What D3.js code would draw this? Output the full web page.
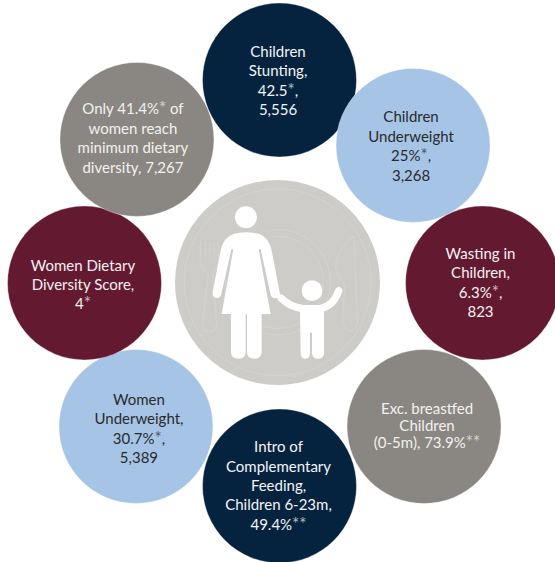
<!DOCTYPE html>
<html>
<head>
<meta charset="utf-8">
<script src="https://cdn.jsdelivr.net/npm/d3@7"></script>
<style>
  html, body { margin: 0; padding: 0; background: #fff; overflow: hidden; }
  text { font-family: Lato, "Noto Sans", sans-serif; font-size: 15px; text-anchor: middle; }
</style>
</head>
<body>
<div id="chart"></div>
<script>
// Clockwise from the top
var labels = [
  ["Children", "Stunting,", "42.5*,", "5,556"],
  ["Children", "Underweight", "25%*,", "3,268"],
  ["Wasting in", "Children,", "6.3%*,", "823"],
  ["Exc. breastfed", "Children", "(0-5m), 73.9%**"],
  ["Intro of", "Complementary", "Feeding,", "Children 6-23m,", "49.4%**"],
  ["Women", "Underweight,", "30.7%*,", "5,389"],
  ["Women Dietary", "Diversity Score,", "4*"],
  ["Only 41.4%* of", "women reach", "minimum dietary", "diversity, 7,267"]
];
var kinds = ["navy", "blue", "maroon", "grey", "navy", "blue", "maroon", "grey"];

var width = 555, height = 562;
var cx = 279.5, cy = 283, ringRadius = 203, bubbleRadius = 77;

// the ring in the picture is not quite regular
var nudgeX = [0, -10, 0, 1, 0, 0, 8, 1];
var nudgeY = [0, 6, 0, 0, 0, 0, 0, 0];
// text placement inside each bubble
var textX = [-1.5, -2, -2, 3, -1, 3, -1.5, -4];
var textY = [6, 6, 5, 4.6, 5, 7.5, 7, 4];
var lineGap = [19.4, 19.4, 19.4, 17.2, 19.4, 19.6, 19.2, 19.4];

var fill = d3.scaleOrdinal()
  .domain(["navy", "blue", "maroon", "grey"])
  .range(["#05233f", "#a6c5e6", "#631a31", "#8a8782"]);
var ink = d3.scaleOrdinal()
  .domain(["navy", "blue", "maroon", "grey"])
  .range(["#f4f5f6", "#2a2a2c", "#f6f1f2", "#f2f1ef"]);
var angle = d3.scaleLinear().domain([0, labels.length]).range([0, 2 * Math.PI]);

var svg = d3.select("#chart").append("svg")
  .attr("width", width)
  .attr("height", height)
  .style("display", "block");

// Centre plate
svg.append("circle")
  .attr("cx", 277.5).attr("cy", 282.5).attr("r", 102.5)
  .attr("fill", "#cdccc8");

// everything below is in 3x coordinates, easier to trace
var icon = svg.append("g").attr("transform", "translate(170,160) scale(0.3333)");

var plate = icon.append("g")
  .attr("fill", "none")
  .attr("stroke", "#dddcd9")
  .attr("stroke-width", 1.6)
  .attr("stroke-dasharray", "14 2");
plate.append("circle").attr("cx", 323).attr("cy", 367).attr("r", 280);
plate.append("circle").attr("cx", 323).attr("cy", 367).attr("r", 158);
plate.append("circle").attr("cx", 323).attr("cy", 367).attr("r", 138);
// fork
plate.append("path").attr("d", "M92 245 L90 295 Q92 325 115 340 L98 490 Q100 515 118 515 Q138 515 140 490 L128 340 Q146 320 146 295 L144 245");
plate.append("path").attr("d", "M106 245 L106 285 M119 245 L119 285 M132 245 L132 285");
// knife
plate.append("path").attr("d", "M552 228 Q500 270 496 320 Q500 350 525 370 L518 480 Q522 512 540 512 Q562 512 562 480 L552 228");

var person = icon.append("g").attr("fill", "#fff");
// mother
person.append("circle").attr("cx", 228).attr("cy", 172).attr("r", 33);
person.append("path").attr("d",
  "M190 222 Q228 212 268 222 Q296 232 305 272 L330 402 Q330 414 316 415 Q306 415 302 404 " +
  "L272 268 L266 268 L302 462 L155 462 L190 268 L184 268 L154 402 Q150 415 140 414 Q126 412 128 396 " +
  "L152 272 Q160 232 190 222 Z");
person.append("path").attr("d", "M183 462 H227 V575 Q227 596 205 596 Q183 596 183 575 Z");
person.append("path").attr("d", "M231 462 H275 V575 Q275 596 253 596 Q231 596 231 575 Z");
// child
person.append("circle").attr("cx", 426).attr("cy", 392).attr("r", 31);
person.append("path").attr("d",
  "M390 452 H462 V578 Q462 596 444 596 Q426 596 426 578 V518 H420 V578 Q420 596 406 596 Q392 596 392 578 Z");
person.append("path")
  .attr("d", "M334 415 Q362 442 400 446 L450 446 Q490 440 506 392")
  .attr("fill", "none")
  .attr("stroke", "#fff")
  .attr("stroke-width", 22)
  .attr("stroke-linecap", "round");

// Ring of bubbles
var bubble = svg.selectAll(".bubble")
  .data(labels)
  .enter().append("g")
  .attr("class", "bubble")
  .attr("transform", function(d, i) {
    var x = cx + ringRadius * Math.sin(angle(i)) + nudgeX[i];
    var y = cy - ringRadius * Math.cos(angle(i)) + nudgeY[i];
    return "translate(" + x + "," + y + ")";
  });

bubble.append("circle")
  .attr("r", bubbleRadius)
  .attr("fill", function(d, i) { return fill(kinds[i]); })
  .attr("stroke", "#fff")
  .attr("stroke-opacity", 0.35)
  .attr("stroke-width", 1);

bubble.each(function(lines, i) {
  var text = d3.select(this).append("text")
    .attr("fill", ink(kinds[i]));

  lines.forEach(function(line, j) {
    var row = text.append("tspan")
      .attr("x", textX[i])
      .attr("y", textY[i] + (j - (lines.length - 1) / 2) * lineGap[i]);
    // asterisks are paler in the original
    line.split(/(\*+)/).forEach(function(part) {
      if (!part) return;
      var span = row.append("tspan").text(part);
      if (part[0] === "*") span.attr("opacity", 0.7).style("font-size", "17px");
    });
  });
});
</script>
</body>
</html>
